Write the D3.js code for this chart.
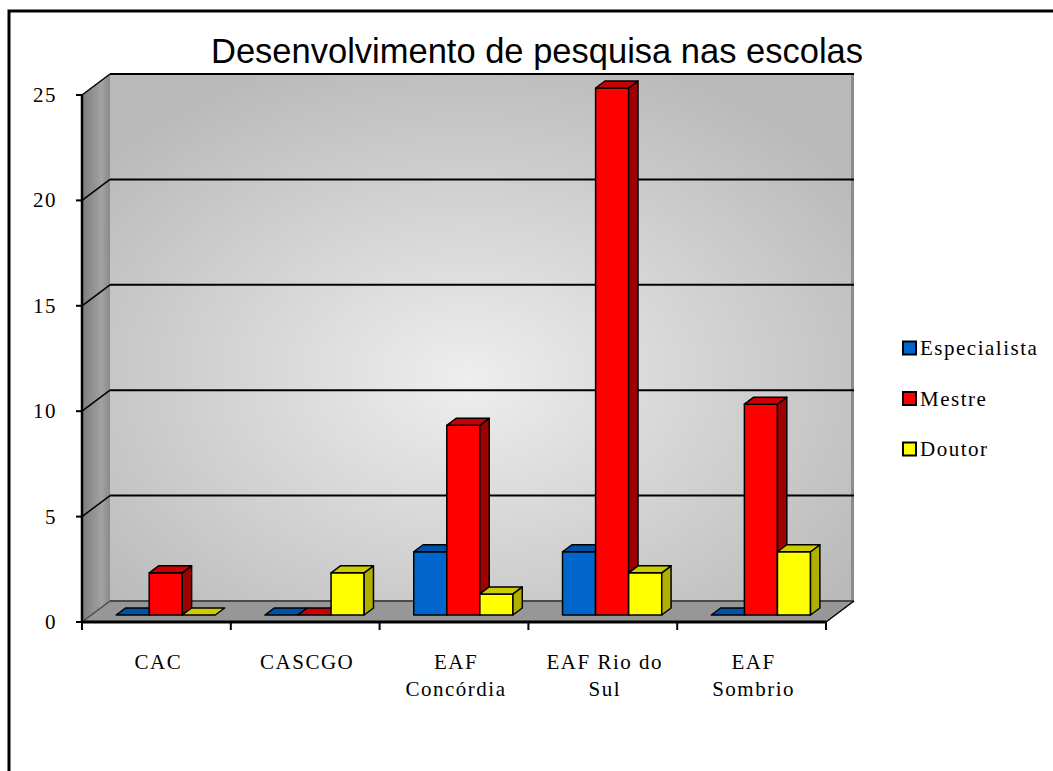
<!DOCTYPE html>
<html><head><meta charset="utf-8">
<script src="https://cdn.jsdelivr.net/npm/d3@7"></script>
<style>html,body{margin:0;padding:0;background:#fff;}svg{display:block;}
.serif{font-family:"Liberation Serif","Times New Roman",Times,"DejaVu Serif",serif;}
.sans{font-family:"Liberation Sans",Arial,sans-serif;}</style>
</head><body>
<script>
const title = "Desenvolvimento de pesquisa nas escolas";
const categories = ["CAC", "CASCGO", "EAF Concórdia", "EAF Rio do Sul", "EAF Sombrio"];
const categoryLines = [["CAC"], ["CASCGO"], ["EAF", "Concórdia"], ["EAF Rio do", "Sul"], ["EAF", "Sombrio"]];
const seriesNames = ["Especialista", "Mestre", "Doutor"];
const especialista = [0, 0, 3, 3, 0];
const mestre = [2, 0, 9, 25, 10];
const doutor = [0, 2, 1, 2, 3];
const yTicks = [0, 5, 10, 15, 20, 25];

const colors = {
  Especialista: {front: "#0066cc", top: "#0052a8", side: "#004c99"},
  Mestre: {front: "#ff0000", top: "#cc0000", side: "#a00000"},
  Doutor: {front: "#ffff00", top: "#cccc00", side: "#b0b000"}
};
const seriesValues = {Especialista: especialista, Mestre: mestre, Doutor: doutor};

const W = 1053, H = 771;
const FS = 21, LS = "1.5px";
const svg = d3.select("body").append("svg").attr("width", W).attr("height", H);

const x = d3.scaleBand().domain(categories).range([82, 826]).padding(0);
const y = d3.scaleLinear().domain([0, 25]).range([622, 95]);
const xs = d3.scaleBand().domain(seriesNames).range([0, x.bandwidth()]).paddingInner(0).paddingOuter(0.75);
const DX = 28, DY = -21;           // floor depth
const bx = DX / 3, by = DY / 3;    // bar depth and offset

const defs = svg.append("defs");
const rg = defs.append("radialGradient").attr("id", "wallGrad")
  .attr("cx", "48%").attr("cy", "58%").attr("r", "65%");
rg.append("stop").attr("offset", "0%").attr("stop-color", "#eeeeee");
rg.append("stop").attr("offset", "100%").attr("stop-color", "#b9b9b9");
const lg = defs.append("linearGradient").attr("id", "sideGrad").attr("x1", "0%").attr("x2", "100%");
lg.append("stop").attr("offset", "0%").attr("stop-color", "#7c7c7c");
lg.append("stop").attr("offset", "70%").attr("stop-color", "#a2a2a2");
lg.append("stop").attr("offset", "100%").attr("stop-color", "#8a8a8a");

// outer border
svg.append("path").attr("d", `M9,${H} L9,11 L${W},11`).attr("fill", "none")
  .attr("stroke", "#000").attr("stroke-width", 3);

// title
svg.append("text").attr("class", "sans").attr("x", 537).attr("y", 63).attr("text-anchor", "middle")
  .attr("font-size", 34.5).attr("fill", "#000").text(title);

const x0 = x.range()[0], x1 = x.range()[1];
const yb = y(0), yt = y(25);

// back wall
svg.append("rect").attr("x", x0 + DX).attr("y", yt + DY).attr("width", x1 - x0).attr("height", yb - yt)
  .attr("fill", "url(#wallGrad)");
svg.append("line").attr("x1", x1 + DX - 1.5).attr("x2", x1 + DX - 1.5).attr("y1", yt + DY).attr("y2", yb + DY)
  .attr("stroke", "#8c8c8c").attr("stroke-width", 3);
// left wall
svg.append("polygon").attr("points", [[x0, yb], [x0 + DX, yb + DY], [x0 + DX, yt + DY], [x0, yt]].join(" "))
  .attr("fill", "url(#sideGrad)");
// floor
svg.append("polygon").attr("points", [[x0, yb], [x1, yb], [x1 + DX, yb + DY], [x0 + DX, yb + DY]].join(" "))
  .attr("fill", "#979797");

// gridlines
yTicks.forEach(v => {
  const yy = y(v);
  svg.append("line").attr("x1", x0 + DX).attr("x2", x1 + DX).attr("y1", yy + DY).attr("y2", yy + DY)
    .attr("stroke", v === 0 ? "#4a4a4a" : "#000").attr("stroke-width", 2);
  svg.append("line").attr("x1", x0).attr("x2", x0 + DX).attr("y1", yy).attr("y2", yy + DY)
    .attr("stroke", v === 0 ? "#4a4a4a" : "#000").attr("stroke-width", 1.5);
});
// floor right edge
svg.append("line").attr("x1", x1).attr("y1", yb).attr("x2", x1 + DX).attr("y2", yb + DY)
  .attr("stroke", "#000").attr("stroke-width", 1.5);

// bars, drawn left to right
const bars = svg.append("g").attr("stroke", "#000").attr("stroke-width", 1.5).attr("stroke-linejoin", "round");
categories.forEach((c, i) => {
  seriesNames.forEach(s => {
    const v = seriesValues[s][i];
    const col = colors[s];
    const L = x(c) + xs(s) + bx, R = L + xs.bandwidth();
    const B = y(0) + by, T = y(v) + by;
    const g = bars.append("g");
    if (v > 0) {
      g.append("polygon").attr("points", [[L, B], [R, B], [R, T], [L, T]].join(" ")).attr("fill", col.front);
      g.append("polygon").attr("points", [[R, B], [R + bx, B + by], [R + bx, T + by], [R, T]].join(" ")).attr("fill", col.side);
    }
    g.append("polygon").attr("points", [[L, T], [R, T], [R + bx, T + by], [L + bx, T + by]].join(" ")).attr("fill", col.top);
  });
});

// y axis
svg.append("line").attr("x1", x0).attr("x2", x0).attr("y1", yt).attr("y2", yb)
  .attr("stroke", "#000").attr("stroke-width", 2.5);
yTicks.forEach(v => {
  svg.append("line").attr("x1", x0 - 6).attr("x2", x0).attr("y1", y(v)).attr("y2", y(v))
    .attr("stroke", "#000").attr("stroke-width", 2);
  svg.append("text").attr("class", "serif").attr("x", 57).attr("y", y(v) + 7).attr("text-anchor", "end")
    .attr("font-size", FS).attr("letter-spacing", LS).attr("fill", "#000").text(v);
});

// x axis
svg.append("line").attr("x1", x0 - 1).attr("x2", x1).attr("y1", yb).attr("y2", yb)
  .attr("stroke", "#000").attr("stroke-width", 3);
const edges = categories.map(c => x(c)).concat([x1]);
edges.forEach(e => {
  svg.append("line").attr("x1", e).attr("x2", e).attr("y1", yb).attr("y2", yb + 8)
    .attr("stroke", "#000").attr("stroke-width", 2);
});
categories.forEach((c, i) => {
  const t = svg.append("text").attr("class", "serif").attr("text-anchor", "middle")
    .attr("font-size", FS).attr("letter-spacing", LS).attr("fill", "#000");
  categoryLines[i].forEach((ln, k) => {
    t.append("tspan").attr("x", x(c) + x.bandwidth() / 2 + 2).attr("y", 669 + k * 27).text(ln);
  });
});

// legend
seriesNames.forEach((s, k) => {
  const cy = 348 + k * 50.5;
  svg.append("rect").attr("x", 903).attr("y", cy - 6.5).attr("width", 13).attr("height", 13)
    .attr("fill", colors[s].front).attr("stroke", "#000").attr("stroke-width", 2);
  svg.append("text").attr("class", "serif").attr("x", 920).attr("y", cy + 7)
    .attr("font-size", FS).attr("letter-spacing", LS).attr("fill", "#000").text(s);
});
</script>
</body></html>
